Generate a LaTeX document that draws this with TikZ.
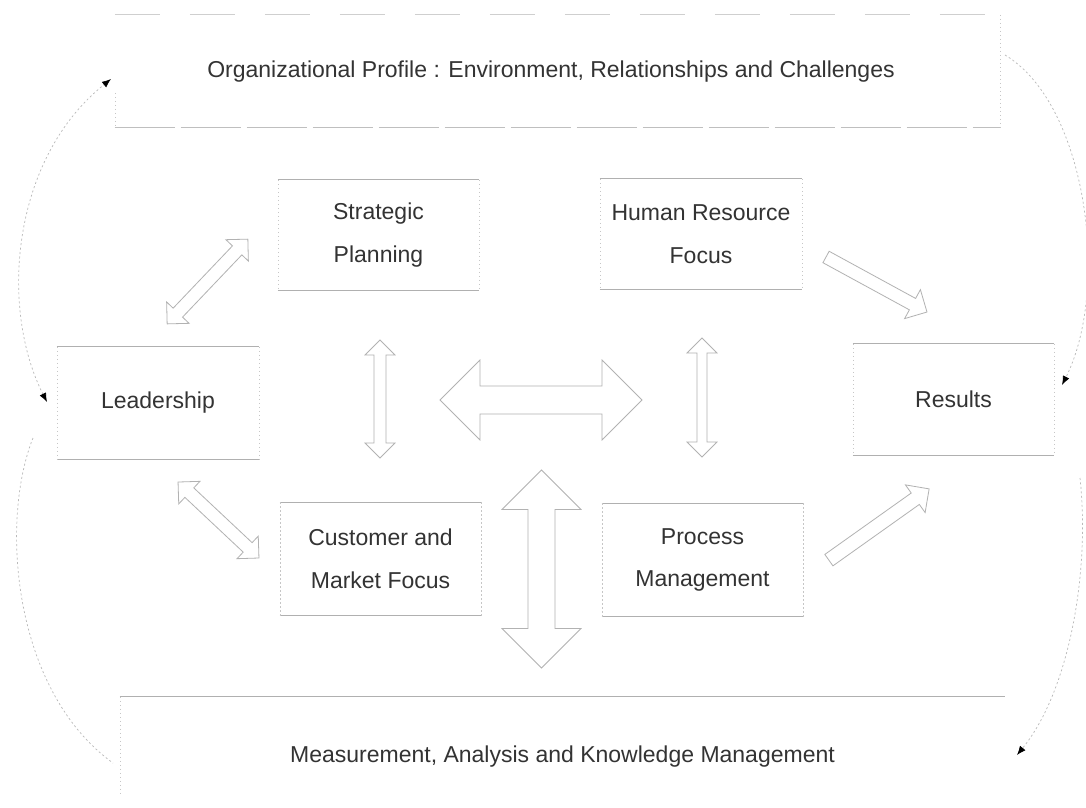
\documentclass[tikz,border=0pt]{standalone}
\usepackage{fontspec}
\setmainfont{Liberation Sans}
\usetikzlibrary{arrows.meta}
\newcommand\boxedges[1]{%
  \draw[hline] (#1.north west) -- (#1.north east) (#1.south west) -- (#1.south east);
  \draw[vline] (#1.north west) -- (#1.south west) (#1.north east) -- (#1.south east);}
\begin{document}
\begin{tikzpicture}[x=1pt,y=-1pt,
  txt/.style={font=\fontsize{23}{42.5}\selectfont, text=black!80, align=center, inner sep=0pt},
  boxnode/.style={txt},
  hline/.style={draw=gray!62, line width=1pt},
  vline/.style={draw=gray!45, line width=0.6pt, dash pattern=on 1.5pt off 2.5pt},
  faintline/.style={draw=gray!38, line width=0.7pt, dash pattern=on 45pt off 30pt},
  blockline/.style={draw=gray!60, line width=0.8pt, line join=miter},
  cyc/.style={draw=gray!55, line width=0.7pt, dash pattern=on 2pt off 2.5pt},
  tipk/.tip={Latex[length=9pt,width=7pt,color=black]},
  pics/dblarrow/.style args={#1/#2/#3}{code={
    \draw[blockline] ({-#1/2},0) -- ({-#1/2+#2/2},{#2/2}) -- ({-#1/2+#2/2},{#3/2})
      -- ({#1/2-#2/2},{#3/2}) -- ({#1/2-#2/2},{#2/2}) -- ({#1/2},0)
      -- ({#1/2-#2/2},{-#2/2}) -- ({#1/2-#2/2},{-#3/2}) -- ({-#1/2+#2/2},{-#3/2})
      -- ({-#1/2+#2/2},{-#2/2}) -- cycle;
  }},
  pics/sglarrow/.style args={#1/#2/#3}{code={
    \draw[blockline] ({-#1/2},{#3/2}) -- ({#1/2-#2/2},{#3/2}) -- ({#1/2-#2/2},{#2/2})
      -- ({#1/2},0) -- ({#1/2-#2/2},{-#2/2}) -- ({#1/2-#2/2},{-#3/2})
      -- ({-#1/2},{-#3/2}) -- cycle;
  }}]
\fill[white] (0,0) rectangle (1086,807);
\useasboundingbox (0,0) rectangle (1086,807);

% outer frames
\node[minimum width=885pt, minimum height=112pt, inner sep=0pt] (op) at (557.5,71) {};
\node[txt] (optext) at (551,72) {Organizational Profile : Environment, Relationships and Challenges};
\draw[faintline] (op.north west) -- (op.north east);
\draw[hline, draw=gray!50, dash pattern=on 60pt off 6pt] (op.south west) -- (op.south east);
\draw[vline] ([yshift=-78pt]op.north west) -- (op.south west);
\draw[vline] (op.north east) -- (op.south east);

\node[minimum width=885pt, minimum height=100pt, inner sep=0pt] (ms) at (562.5,747) {};
\node[txt] (mstext) at (562.5,757) {Measurement, Analysis and Knowledge Management};
\draw[hline] (ms.north west) -- (ms.north east);
\draw[vline] (ms.north west) -- ([yshift=-98pt]ms.north west);

% category boxes
\node[boxnode, minimum width=201pt, minimum height=110pt] (sp) at (378.5,235) {Strategic\\Planning};
\node[boxnode, minimum width=202pt, minimum height=110pt] (hr) at (701,234) {Human Resource\\Focus};
\node[boxnode, minimum width=202pt, minimum height=112pt] (ld) at (158,403) {Leadership};
\node[boxnode, minimum width=201pt, minimum height=111pt] (rs) at (953.5,399.5) {Results};
\node[boxnode, minimum width=201pt, minimum height=113pt] (cm) at (380.5,559) {Customer and\\Market Focus};
\node[boxnode, minimum width=201pt, minimum height=113pt] (pm) at (702.5,560) {Process\\Management};
\boxedges{sp}\boxedges{hr}\boxedges{ld}\boxedges{rs}\boxedges{cm}\boxedges{pm}

% block arrows
\pic[rotate=46.4] at (207.5,281.5) {dblarrow=117/31/13};
\pic[rotate=-43.2] at (218.5,520) {dblarrow=111/31/13};
\pic[rotate=90] at (380,399) {dblarrow=118/30/12};
\pic at (541,400) {dblarrow=202/80/28};
\pic[rotate=90] at (702,397.5) {dblarrow=119/30/10};
\pic[rotate=90] at (541.5,569) {dblarrow=198/79/27};
\pic[rotate=-28.6] at (876.5,284.5) {sglarrow=115/33/13};
\pic[rotate=35.4] at (879,524.5) {sglarrow=123/34/14};

% cycle arcs
\coordinate (cLtop) at (111,79);
\coordinate (cLmid) at (47,402);
\coordinate (cLlow) at (33,438);
\coordinate (cLbot) at (113,763);
\coordinate (cRtop) at (1005,55);
\coordinate (cRmid) at (1062,385);
\coordinate (cRlow) at (1080,478);
\coordinate (cRbot) at (1017,755);
\draw[cyc, tipk-tipk] (cLmid) .. controls (0,310) and (10,160) .. (cLtop);
\draw[cyc] (cLlow) .. controls (0,520) and (12,690) .. (cLbot);
\draw[cyc, -tipk] (cRtop) .. controls (1088,105) and (1110,290) .. (cRmid);
\draw[cyc, -tipk] (cRlow) .. controls (1090,570) and (1070,690) .. (cRbot);
\end{tikzpicture}
\end{document}
